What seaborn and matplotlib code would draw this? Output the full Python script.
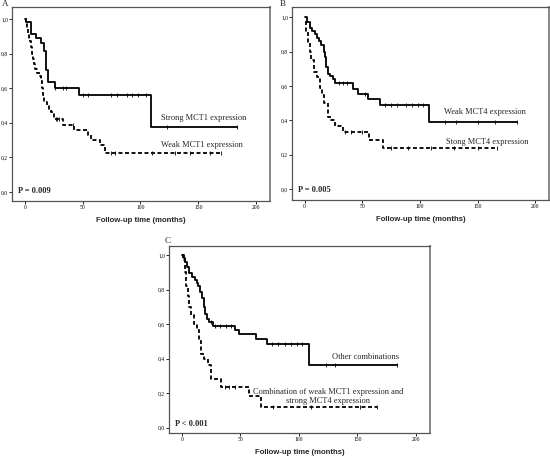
import numpy as np
import pandas as pd
import matplotlib
matplotlib.use('Agg')
import matplotlib.pyplot as plt
import seaborn as sns

sns.set_style("white")
plt.rcParams['font.family'] = ['DejaVu Sans']

# --- data (Kaplan-Meier steps: time in months, survival proportion) ---
# Panel A
a_strong_t = [0, 1, 5.4, 9.7, 14, 16.6, 18.6, 20.3, 25.9, 46.7, 109.4, 183.5]
a_strong_s = [1.0, 0.98, 0.915, 0.89, 0.863, 0.815, 0.705, 0.634, 0.60, 0.558, 0.373, 0.373]
a_strong_cens = [26, 33, 36, 50, 55, 75, 80, 88, 93, 98, 105, 123, 183.5]
a_weak_t = [0, 1, 2, 3, 4, 5, 6, 7, 8, 9, 11, 13, 14, 15, 16, 17, 19, 21, 23, 25.5, 33, 43, 55, 57, 65, 69, 169.5]
a_weak_s = [1.0, 0.97, 0.94, 0.91, 0.87, 0.84, 0.80, 0.77, 0.74, 0.71, 0.69, 0.67, 0.64, 0.60,
            0.56, 0.52, 0.50, 0.48, 0.46, 0.42, 0.387, 0.36, 0.33, 0.30, 0.27, 0.225, 0.225]
a_weak_cens = [27, 28, 30, 42, 75, 78, 110, 130, 143, 160, 169.5]

# Panel B
b_weak_t = [0, 2, 4.3, 6.3, 8.6, 10.6, 12.4, 14.4, 16.4, 17.8, 18.7, 20, 22.4, 24.5, 26.5,
            42.3, 46, 55, 65.6, 108, 184]
b_weak_s = [1.0, 0.97, 0.94, 0.92, 0.90, 0.878, 0.86, 0.839, 0.80, 0.77, 0.713, 0.67, 0.66,
            0.64, 0.62, 0.583, 0.555, 0.522, 0.489, 0.39, 0.39]
b_weak_cens = [30, 33, 37, 52, 70, 75, 80, 88, 93, 98, 103, 122, 131, 150, 165, 184]
b_strong_t = [0, 1.5, 2.9, 4.5, 5.8, 7.8, 11, 13, 15, 17, 20, 23, 26, 33, 56, 67.6, 167]
b_strong_s = [0.975, 0.92, 0.85, 0.80, 0.75, 0.68, 0.65, 0.59, 0.55, 0.50, 0.42, 0.40, 0.365,
              0.334, 0.285, 0.237, 0.237]
b_strong_cens = [35, 40, 50, 75, 90, 110, 130, 150, 167]

# Panel C
c_other_t = [0, 1.4, 2.8, 4.2, 5.7, 8.8, 10.8, 12.7, 14.2, 15.9, 17.3, 18.7, 20, 21.5, 23.5,
             26.9, 45.6, 49, 63, 73, 108.5, 183.6]
c_other_s = [1.0, 0.98, 0.96, 0.932, 0.893, 0.87, 0.854, 0.84, 0.82, 0.786, 0.75, 0.70, 0.66,
             0.63, 0.61, 0.592, 0.567, 0.543, 0.514, 0.485, 0.365, 0.365]
c_other_cens = [25, 28, 33, 38, 42, 77, 82, 88, 93, 98, 103, 123, 131, 183.6]
c_comb_t = [0, 0.8, 2.3, 3.7, 5.1, 6.5, 7.9, 10.2, 12.7, 15, 16.4, 19.3, 22, 24.9, 33.4, 57, 68, 166.6]
c_comb_s = [1.0, 0.97, 0.90, 0.82, 0.76, 0.70, 0.65, 0.60, 0.567, 0.50, 0.427, 0.398, 0.363,
            0.282, 0.239, 0.184, 0.12, 0.12]
c_comb_cens = [37, 40, 45, 78, 110, 152, 166.6]

y_ticks = [0.0, 0.2, 0.4, 0.6, 0.8, 1.0]
y_labels = ["0,0", "0,2", "0,4", "0,6", "0,8", "1,0"]
x_ticks = [0, 50, 100, 150, 200]

W, H = 550, 458
fig = plt.figure(figsize=(W / 100, H / 100), dpi=100)


def px_axes(l, t, r, b):
    return fig.add_axes([l / W, 1 - b / H, (r - l) / W, (b - t) / H])


def step_at(times, surv, x):
    idx = np.searchsorted(times, x, side='right') - 1
    return np.asarray(surv)[idx]


def km(ax, times, surv, cens, dashed):
    df = pd.DataFrame({"t": times, "s": surv})
    ls = (0, (2.2, 1.4)) if dashed else '-'
    sns.lineplot(data=df, x="t", y="s", ax=ax, drawstyle='steps-post', color='black',
                 linewidth=1.3, linestyle=ls, estimator=None, sort=False)
    cdf = pd.DataFrame({"t": cens, "s": step_at(times, surv, cens)})
    sns.scatterplot(data=cdf, x="t", y="s", ax=ax, marker='|', s=9, color='black',
                    linewidth=0.6)


def style(ax, pval, ylim):
    ax.set_xlim(-11, 212)
    ax.set_ylim(*ylim)
    ax.set_xticks(x_ticks)
    ax.set_xticklabels([str(v) for v in x_ticks], fontsize=4, family='Liberation Serif')
    ax.set_yticks(y_ticks)
    ax.set_yticklabels(y_labels, fontsize=4, family='Liberation Serif')
    ax.tick_params(axis='both', direction='out', length=2, width=0.6, pad=0.8,
                   left=True, bottom=True, colors='black')
    for sp in ax.spines.values():
        sp.set_color('#555555')
        sp.set_linewidth(0.9)
    ax.spines['right'].set_color('#888888')
    ax.spines['right'].set_linewidth(1.4)
    ax.set_xlabel("Follow-up time (months)", fontsize=5.6, fontweight='bold',
                  family='Liberation Sans', labelpad=5)
    ax.set_ylabel("")
    ax.text(0.022, 0.05, pval, transform=ax.transAxes, fontsize=6, fontweight='bold',
            family='Liberation Serif', ha='left', va='center')


def panel_label(x, y, s):
    fig.text(x / W, 1 - y / H, s, fontsize=6.5, family='Liberation Serif', ha='left', va='top')


ax_a = px_axes(12, 7, 270, 201)
km(ax_a, a_strong_t, a_strong_s, a_strong_cens, False)
km(ax_a, a_weak_t, a_weak_s, a_weak_cens, True)
style(ax_a, "P = 0.009", (-0.052, 1.069))
panel_label(2, 0, "A")
ax_a.text(118, 0.43, "Strong MCT1 expression", fontsize=6, family='Liberation Serif', va='center')
ax_a.text(118, 0.27, "Weak MCT1 expression", fontsize=6, family='Liberation Serif', va='center')

ax_b = px_axes(292, 7, 549, 200)
km(ax_b, b_weak_t, b_weak_s, b_weak_cens, False)
km(ax_b, b_strong_t, b_strong_s, b_strong_cens, True)
style(ax_b, "P = 0.005", (-0.064, 1.06))
panel_label(280, 0, "B")
ax_b.text(121, 0.45, "Weak MCT4 expression", fontsize=6, family='Liberation Serif', va='center')
ax_b.text(123, 0.276, "Stong MCT4 expression", fontsize=6, family='Liberation Serif', va='center')

ax_c = px_axes(169, 246, 430, 433)
km(ax_c, c_other_t, c_other_s, c_other_cens, False)
km(ax_c, c_comb_t, c_comb_s, c_comb_cens, True)
style(ax_c, "P < 0.001", (-0.03, 1.052))
panel_label(165, 237, "C")
ax_c.text(128, 0.408, "Other combinations", fontsize=6, family='Liberation Serif', va='center')
ax_c.text(125, 0.182, "Combination of weak MCT1 expression and\nstrong MCT4 expression",
          fontsize=6, family='Liberation Serif', ha='center', va='center', linespacing=1.1)

fig.savefig("out.png", dpi=100)
